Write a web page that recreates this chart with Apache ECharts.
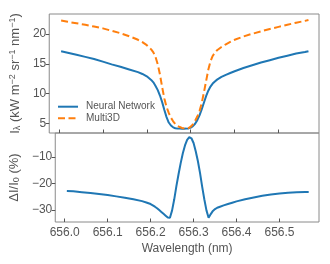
<!DOCTYPE html>
<html><head><meta charset="utf-8">
<script src="https://cdn.jsdelivr.net/npm/echarts@6/dist/echarts.min.js"></script>
<style>html,body{margin:0;padding:0;background:#fff}#c{width:330px;height:264px}</style>
</head><body><div id="c"></div>
<script>
const wavelength = [656.005,656.02,656.04,656.06,656.08,656.10,656.12,656.14,656.16,656.18,656.19,656.20,656.21,656.215,656.22,656.225,656.23,656.235,656.24,656.245,656.25,656.255,656.26,656.265,656.27,656.275,656.28,656.285,656.29,656.295,656.30,656.305,656.31,656.315,656.32,656.325,656.33,656.335,656.34,656.345,656.35,656.355,656.36,656.37,656.38,656.39,656.40,656.42,656.44,656.46,656.48,656.50,656.52,656.54,656.56,656.568];
const neuralNetwork = [17.1,16.85,16.5,16.15,15.8,15.35,14.9,14.5,14.05,13.6,13.3,12.9,12.3,11.9,11.3,10.6,9.7,8.6,7.3,6.1,5.2,4.7,4.4,4.25,4.2,4.18,4.17,4.17,4.18,4.22,4.35,4.6,5.0,5.6,6.4,7.4,8.5,9.6,10.5,11.2,11.7,12.05,12.35,12.8,13.15,13.45,13.75,14.3,14.75,15.2,15.6,16.0,16.35,16.7,16.95,17.1];
const multi3D = [22.2,22.0,21.75,21.5,21.2,20.9,20.5,20.1,19.6,19.0,18.6,18.1,17.4,16.9,16.1,14.9,13.2,11.1,9.2,7.8,6.8,6.0,5.4,4.95,4.65,4.45,4.3,4.22,4.2,4.28,4.5,4.9,5.5,6.2,7.1,8.4,10.2,12.1,14.0,15.4,16.3,16.85,17.25,17.8,18.25,18.65,19.0,19.55,20.0,20.4,20.8,21.15,21.5,21.85,22.15,22.3];
const deltaI = [-22.9,-23.0,-23.3,-23.6,-24.0,-24.4,-24.9,-25.4,-26.0,-26.7,-27.2,-27.8,-28.8,-29.4,-30.1,-30.8,-31.5,-32.2,-32.9,-33.0,-30.2,-26.0,-21.0,-16.5,-12.3,-8.6,-5.6,-3.5,-2.5,-2.9,-4.7,-7.8,-11.5,-16.0,-21.2,-26.0,-30.2,-33.0,-31.6,-30.4,-29.7,-29.2,-28.9,-28.3,-27.8,-27.3,-26.8,-26.0,-25.3,-24.7,-24.2,-23.8,-23.5,-23.3,-23.2,-23.2];
const xTicks = [656.0,656.1,656.2,656.3,656.4,656.5];
const yTicksTop = [5,10,15,20];
const yTicksBottom = [-30,-20,-10];
const seriesNames = ['Neural Network','Multi3D'];

const FONT = 'Liberation Sans';
const TXT = '#555';
const SPINE = '#8a8a8a';
const TICK = '#555';
const pair = (xs, ys) => xs.map((x,i)=>[x, ys[i]]);

const xBase = (gi, showLabels) => ({
  type:'value', gridIndex:gi, min:655.978, max:656.592,
  splitLine:{show:false},
  axisLine:{show:false},
  axisTick:{show:true, inside:true, length:3.5, customValues:xTicks, lineStyle:{color:TICK, width:1}},
  axisLabel:{show:showLabels, customValues:xTicks, formatter:v=>v.toFixed(1), fontFamily:FONT, fontSize:12, color:TXT, margin:5},
  name: showLabels ? 'Wavelength (nm)' : '', nameLocation:'middle', nameGap:21,
  nameTextStyle:{fontFamily:FONT, fontSize:12, color:TXT}
});
const yBase = (gi, min, max, ticks, name, rich, gap) => ({
  type:'value', gridIndex:gi, min:min, max:max,
  splitLine:{show:false},
  axisLine:{show:false},
  axisTick:{show:true, inside:false, length:3.5, customValues:ticks, lineStyle:{color:TICK, width:1}},
  axisLabel:{customValues:ticks, formatter:v=>String(v).replace('-','\u2212'), fontFamily:FONT, fontSize:12, color:TXT, margin:3},
  name:name, nameLocation:'middle', nameGap:gap,
  nameTextStyle:{fontFamily:FONT, fontSize:13, color:TXT, rich:rich}
});

const rich = {
  a:{fontFamily:FONT, fontSize:13, color:TXT},
  s:{fontFamily:FONT, fontSize:9, color:TXT, verticalAlign:'bottom', padding:[4,0,0,0]},
  p:{fontFamily:FONT, fontSize:9, color:TXT, verticalAlign:'top', padding:[0,0,5,0]}
};

const chart = echarts.init(document.getElementById('c'), null, {renderer:'canvas'});
chart.setOption({
  animation:false,
  backgroundColor:'#fff',
  grid:[
    {left:48, right:11, top:14, height:119, show:true, borderColor:SPINE, borderWidth:1, backgroundColor:'transparent'},
    {left:48, right:11, top:133, height:89, show:true, borderColor:SPINE, borderWidth:1, backgroundColor:'transparent'}
  ],
  xAxis:[xBase(0,false), xBase(1,true)],
  yAxis:[
    yBase(0, 3.45, 23.3, yTicksTop, '{a|I}{s|\u03bb}{a| (kW m}{p|\u22122}{a| sr}{p|\u22121}{a| nm}{p|\u22121}{a|)}', rich, 27),
    yBase(1, -34.6, -0.9, yTicksBottom, '{a|\u0394I/I}{s|0}{a| (%)}', rich, 27)
  ],
  legend:{
    orient:'vertical', left:57, top:101.7, padding:0, itemWidth:20, itemHeight:10, itemGap:1.6,
    data:seriesNames,
    itemStyle:{opacity:0},
    textStyle:{fontFamily:FONT, fontSize:10, color:TXT, padding:[0,0,0,3]}
  },
  series:[
    {name:seriesNames[0], type:'line', xAxisIndex:0, yAxisIndex:0, data:pair(wavelength, neuralNetwork), smooth:false, showSymbol:false, symbol:'none', lineStyle:{color:'#1f77b4', width:2}, itemStyle:{color:'#1f77b4'}, z:3},
    {name:seriesNames[1], type:'line', xAxisIndex:0, yAxisIndex:0, data:pair(wavelength, multi3D), smooth:false, showSymbol:false, symbol:'none', lineStyle:{color:'#ff7f0e', width:2, type:[7,3.5]}, itemStyle:{color:'#ff7f0e'}, z:4},
    {name:'deltaI', type:'line', xAxisIndex:1, yAxisIndex:1, data:pair(wavelength, deltaI), smooth:false, showSymbol:false, symbol:'none', lineStyle:{color:'#1f77b4', width:2}, itemStyle:{color:'#1f77b4'}}
  ]
});
</script></body></html>
